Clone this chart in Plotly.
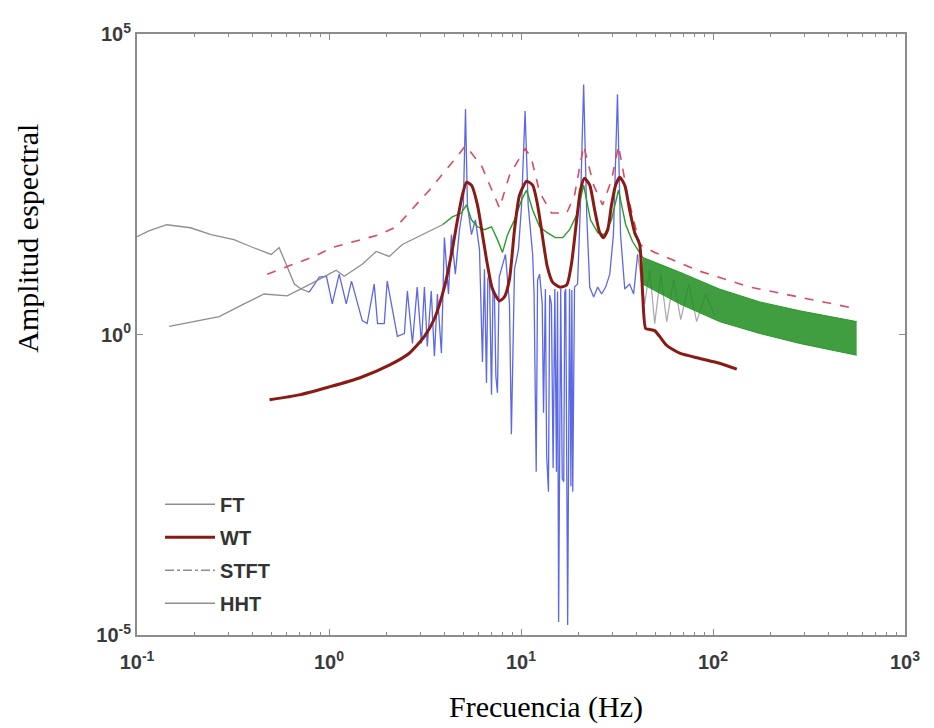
import plotly.graph_objects as go

# ---------------- data ----------------
# FT: low-frequency part (grey) and main part (blue), tail above 40 Hz (grey)
ft_low_freq = [0.1, 0.116, 0.143, 0.19, 0.243, 0.32, 0.39, 0.50, 0.55, 0.605, 0.66, 0.716, 0.789]
ft_low_amp = [42.5, 53.3, 67, 59.7, 45.8, 37.9, 29.1, 21.5, 28.0, 13.1, 6.90, 5.71, 5.09]

ft_freq = [0.789, 0.89, 0.97, 1.04, 1.13, 1.23, 1.31, 1.49, 1.58, 1.72, 1.79, 1.94, 2.01, 2.27, 2.47,
           2.56, 2.72, 2.88, 3.03, 3.14, 3.25, 3.41, 3.54, 3.67, 3.85, 3.99, 4.19, 4.34, 4.55, 4.78,
           5.01, 5.14, 5.26, 5.52, 5.79, 6.08, 6.30, 6.45, 6.61, 6.72, 6.85, 7.02, 7.15, 7.27, 7.40,
           7.54, 7.70, 7.91, 8.30, 8.71, 8.91, 9.25, 9.70, 10.07, 10.5, 10.9, 11.5, 11.7, 12.0, 12.2,
           12.5, 12.9, 13.1, 13.4, 13.6, 13.9, 14.1, 14.4, 14.7, 15.0, 15.3, 15.5, 15.7, 16.1, 16.4,
           16.7, 16.9, 17.1, 17.5, 17.9, 18.2, 18.4, 18.6, 19.0, 19.7, 20.4, 21.2, 22.0, 22.8, 23.9,
           25.1, 26.3, 27.6, 29.0, 30.3, 31.8, 33.0, 34.7, 36.8, 38.6, 40.5]
ft_amp = [5.09, 9.0, 9.3, 3.24, 10.1, 3.24, 7.73, 1.70, 1.52, 6.90, 1.52, 1.52, 7.73, 0.93, 1.04,
          5.30, 0.71, 6.15, 0.71, 6.15, 0.635, 5.30, 0.435, 4.72, 0.488, 40.9, 4.72, 45.8, 10.1, 55.4,
          143, 5623, 143, 45.8, 81, 25.9, 0.35, 12.2, 0.156, 8.5, 10.1, 0.099, 6.0, 4.72, 0.2,
          0.107, 9.0, 12.2, 21.5, 3.24, 0.0218, 12.2, 25.9, 143, 5212, 143, 21.5, 4.72, 0.00518, 8.0,
          10.1, 3.24, 0.05, 5.71, 0.01, 0.00243, 4.5, 3.24, 0.006, 5.71, 0.00518, 5.2, 1.64e-5, 5.71, 0.004,
          0.00354, 5.0, 5.71, 1.46e-5, 5.71, 0.003, 5.5, 0.00243, 6.15, 6.90, 143, 14500, 97.7, 6.15, 4.22,
          6.15, 4.72, 6.15, 10.1, 45.8, 9931, 45.8, 5.71, 6.90, 4.72, 21.5]

ft_tail_freq = [40.5, 44.1, 46.8, 49.7, 53.4, 57.4, 62.4, 67.9, 74.8, 82.2, 91.6, 102]
ft_tail_amp = [21.5, 3.24, 12.2, 1.52, 10.1, 1.64, 8.34, 1.77, 6.90, 1.64, 4.72, 2.05]

# WT
wt_freq = [0.49, 0.70, 1.0, 1.44, 2.06, 2.62, 3.14, 3.54, 3.99, 4.34, 4.67, 4.95, 5.20, 5.52, 5.93,
           6.30, 6.68, 7.10, 7.73, 8.20, 8.71, 9.25, 9.82, 10.7, 11.5, 12.2, 12.9, 13.7, 14.6, 15.9,
           17.3, 18.3, 19.5, 20.4, 21.4, 22.8, 24.2, 25.7, 26.9, 28.3, 29.6, 31.1, 32.7, 34.7, 36.8,
           39.1, 41.5, 43.0, 44.6, 46.8, 49.7, 52.7, 57.4, 67.1, 85.3, 108, 133]
wt_amp = [0.082, 0.099, 0.134, 0.189, 0.309, 0.488, 0.93, 1.83, 6.15, 21.5, 81, 208, 341, 305, 143,
          45.8, 14.7, 5.71, 3.62, 4.22, 8.34, 55.4, 208, 354, 305, 143, 45.8, 13.6, 7.44, 6.15,
          6.64, 14.7, 81, 252, 397, 305, 118, 49.4, 40.9, 55.4, 143, 305, 412, 305, 118,
          49.4, 31.4, 4.72, 1.26, 1.21, 1.16, 0.93, 0.66, 0.488, 0.40, 0.333, 0.266]

# STFT (dashed)
stft_freq = [0.477, 0.837, 1.04, 1.83, 2.24, 3.33, 4.78, 5.14, 6.22, 7.73, 8.71, 10.5, 11.3, 12.5, 14.4,
             17.3, 19.0, 21.2, 23.9, 26.6, 29.6, 32.2, 35.9, 41.5, 49.7, 85.3, 156, 283, 560]
stft_amp = [10.1, 19.9, 28.0, 45.8, 62.1, 252, 1023, 1385, 649, 127, 445, 1236, 879, 233, 105,
            105, 208, 1385, 305, 143, 368, 1385, 208, 31.4, 23.2, 11.3, 6.15, 4.22, 2.68]

# HHT: low-frequency part (grey), main part (green), high-frequency band (green envelope)
hht_low_freq = [0.147, 0.268, 0.361, 0.459, 0.605, 0.716, 0.837, 1.00, 1.09, 1.20, 1.49, 1.76, 2.06,
                2.41, 2.85, 3.33, 3.90]
hht_low_amp = [1.36, 1.98, 3.24, 4.72, 4.38, 5.71, 7.44, 10.1, 11.7, 9.3, 14.7, 24.1, 19.9,
               31.4, 40.9, 51.4, 67]
hht_freq = [3.90, 4.39, 4.89, 5.20, 5.52, 5.93, 6.45, 7.02, 7.54, 8.01, 8.51, 9.25, 10.07, 10.7, 11.5,
            12.5, 13.7, 15.1, 16.5, 17.9, 19.5, 21.2, 23.0, 25.1, 27.2, 29.6, 32.2, 35.1, 38.1, 41.5, 43.0]
hht_amp = [67, 90.6, 105, 143, 81, 62, 55.4, 62, 37.9, 23.2, 45.8, 81, 173, 252, 118,
           62, 49.4, 40.9, 40.9, 55.4, 97.7, 305, 81, 49.4, 45.8, 81, 252, 67, 35.2, 23.2, 19.2]
band_freq = [43.0, 67.1, 108, 175, 283, 560]
band_top = [19.2, 10.9, 5.71, 3.49, 2.48, 1.64]
band_bottom = [6.9, 3.24, 1.64, 1.04, 0.71, 0.452]

legend_labels = ["FT", "WT", "STFT", "HHT"]
x_tickvals = [0.1, 1, 10, 100, 1000]
x_ticktext = ["10<sup>-1</sup>", "10<sup>0</sup>", "10<sup>1</sup>", "10<sup>2</sup>", "10<sup>3</sup>"]
y_tickvals = [1e-5, 1, 1e5]
y_ticktext = ["10<sup>-5</sup>", "10<sup>0</sup>", "10<sup>5</sup>"]

# ---------------- styles ----------------
GREY = "#8e8e8e"
BLUE = "#3f4fe0"
GREEN = "#2a9a2a"
RED_DASH = "#dc4a62"
WT_RED = "#8a1b14"

fig = go.Figure()

# FT
fig.add_trace(go.Scatter(x=ft_low_freq, y=ft_low_amp, mode="lines", line=dict(color=GREY, width=1.3),
                         showlegend=False, hoverinfo="skip"))
fig.add_trace(go.Scatter(x=ft_tail_freq, y=ft_tail_amp, mode="lines", line=dict(color="#a9a9a9", width=1.2),
                         showlegend=False, hoverinfo="skip"))
fig.add_trace(go.Scatter(x=ft_freq, y=ft_amp, mode="lines", line=dict(color=BLUE, width=1.3),
                         opacity=0.85, showlegend=False, name="FT"))
# HHT
fig.add_trace(go.Scatter(x=hht_low_freq, y=hht_low_amp, mode="lines", line=dict(color=GREY, width=1.3),
                         showlegend=False, hoverinfo="skip"))
fig.add_trace(go.Scatter(x=band_freq, y=band_bottom, mode="lines", line=dict(color=GREEN, width=1),
                         showlegend=False, hoverinfo="skip"))
fig.add_trace(go.Scatter(x=band_freq, y=band_top, mode="lines", line=dict(color=GREEN, width=1),
                         fill="tonexty", fillcolor="rgba(30,140,30,0.85)", showlegend=False, hoverinfo="skip"))
fig.add_trace(go.Scatter(x=hht_freq, y=hht_amp, mode="lines", line=dict(color=GREEN, width=1.4),
                         showlegend=False, name="HHT"))
# STFT
fig.add_trace(go.Scatter(x=stft_freq, y=stft_amp, mode="lines", line=dict(color=RED_DASH, width=1.6, dash="dash"),
                         showlegend=False, name="STFT"))
# WT
fig.add_trace(go.Scatter(x=wt_freq, y=wt_amp, mode="lines", line=dict(color=WT_RED, width=3, shape="spline", smoothing=0.6),
                         showlegend=False, name="WT"))

# legend entries (as drawn in the reference legend)
legend_styles = [dict(color=GREY, width=1.5),
                 dict(color=WT_RED, width=3),
                 dict(color=GREY, width=1.5, dash="dashdot"),
                 dict(color=GREY, width=1.5)]
for lab, st in zip(legend_labels, legend_styles):
    fig.add_trace(go.Scatter(x=[None], y=[None], mode="lines", line=st, name=lab, legendgroup=lab,
                             showlegend=True))

axis_common = dict(type="log", showline=True, linecolor="#8c8c8c", linewidth=2, mirror="ticks",
                   ticks="inside", tickcolor="#8c8c8c", ticklen=6, showgrid=False, zeroline=False,
                   tickfont=dict(family="Liberation Sans", size=20, color="#3a3a3a", weight="bold"))

minor_x = [m * 10 ** k for k in (-1, 0, 1, 2) for m in range(2, 10)]

fig.update_xaxes(range=[-1, 3], tickmode="array", tickvals=x_tickvals, ticktext=x_ticktext,
                 ticklabelstandoff=8,
                 minor=dict(tickmode="array", tickvals=minor_x, ticks="inside", ticklen=3, tickcolor="#8c8c8c"),
                 **axis_common)
fig.update_yaxes(range=[-5, 5], tickmode="array", tickvals=y_tickvals, ticktext=y_ticktext, **axis_common)

fig.update_layout(
    width=926, height=720,
    margin=dict(l=129, r=29, t=19, b=93),
    paper_bgcolor="white", plot_bgcolor="white",
    legend=dict(x=0.03, y=0.25, xanchor="left", yanchor="top", bgcolor="rgba(0,0,0,0)",
                font=dict(family="Liberation Sans", size=20, color="#333333", weight="bold"),
                traceorder="grouped", tracegroupgap=4, itemwidth=50),
    annotations=[
        dict(text="Frecuencia (Hz)", x=0.532, y=-0.12, xref="paper", yref="paper", showarrow=False,
             xanchor="center", yanchor="middle", font=dict(family="Liberation Serif", size=30, color="black")),
        dict(text="Amplitud espectral", x=-0.142, y=0.661, xref="paper", yref="paper", showarrow=False,
             textangle=-90, xanchor="center", yanchor="middle",
             font=dict(family="Liberation Serif", size=30, color="black")),
    ],
)

fig.write_html("out.html")
